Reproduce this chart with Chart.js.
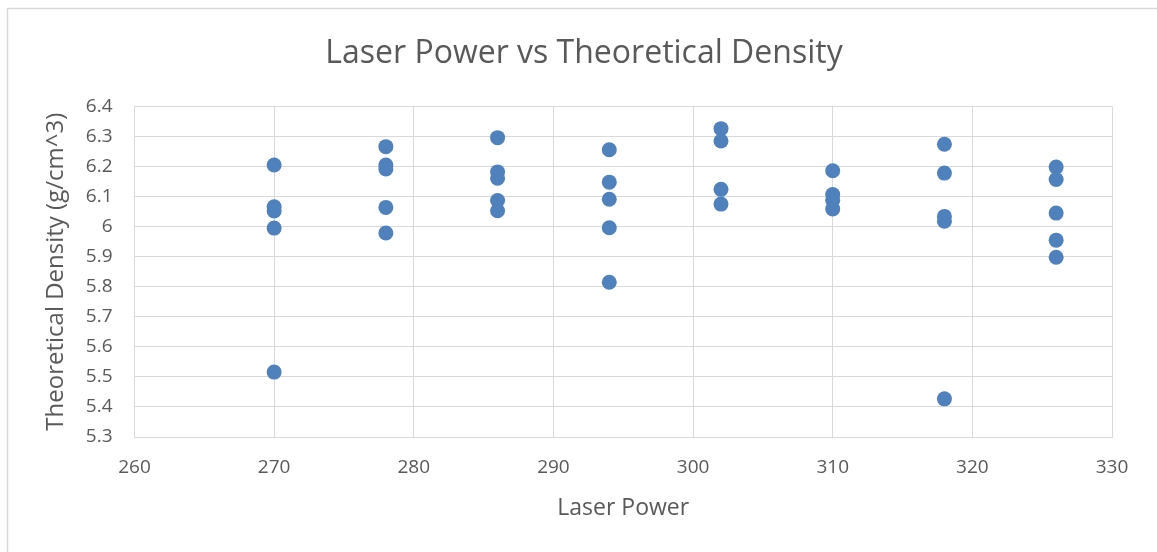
<!DOCTYPE html>
<html>
<head>
<meta charset="utf-8">
<script src="https://cdn.jsdelivr.net/npm/chart.js@4.4.1/dist/chart.umd.min.js"></script>
<style>
  html, body { margin: 0; padding: 0; background: #ffffff; }
  #wrap { width: 1157px; height: 552px; position: relative; }
</style>
</head>
<body>
<div id="wrap"><canvas id="c" width="1157" height="552"></canvas></div>
<script>
// Laser power settings (W) and measured theoretical density (g/cm^3)
const laserPower = [
  270, 270, 270, 270, 270,
  278, 278, 278, 278, 278,
  286, 286, 286, 286, 286,
  294, 294, 294, 294, 294,
  302, 302, 302, 302,
  310, 310, 310, 310,
  318, 318, 318, 318, 318,
  326, 326, 326, 326, 326
];
const density = [
  6.205, 6.066, 6.052, 5.995, 5.516,
  6.266, 6.205, 6.192, 6.064, 5.979,
  6.296, 6.182, 6.161, 6.087, 6.053,
  6.256, 6.148, 6.091, 5.996, 5.815,
  6.326, 6.285, 6.124, 6.075,
  6.186, 6.107, 6.088, 6.059,
  6.274, 6.178, 6.034, 6.018, 5.427,
  6.198, 6.157, 6.045, 5.955, 5.898
];
const xTicks = [260, 270, 280, 290, 300, 310, 320, 330];
const yTicks = [5.3, 5.4, 5.5, 5.6, 5.7, 5.8, 5.9, 6, 6.1, 6.2, 6.3, 6.4];

const points = laserPower.map((p, i) => ({ x: p, y: density[i] }));

const FONT = "'Open Sans', 'Noto Sans', sans-serif";
const TEXT = '#595959';
const GRID = '#d9d9d9';

// White background plus the thin frame around the chart
const framePlugin = {
  id: 'frame',
  beforeDraw(chart) {
    const ctx = chart.ctx;
    ctx.save();
    ctx.fillStyle = '#ffffff';
    ctx.fillRect(0, 0, chart.width, chart.height);
    ctx.strokeStyle = GRID;
    ctx.lineWidth = 1.5;
    ctx.strokeRect(7.5, 8.5, chart.width + 20, chart.height + 20);
    ctx.restore();
  }
};

new Chart(document.getElementById('c'), {
  type: 'scatter',
  data: {
    datasets: [{
      label: 'Theoretical Density',
      data: points,
      backgroundColor: '#4f81bd',
      borderColor: '#4f81bd',
      borderWidth: 0,
      pointRadius: 7.5,
      pointHoverRadius: 7.5
    }]
  },
  options: {
    responsive: false,
    animation: false,
    events: [],
    layout: { padding: { left: 11, right: 0, top: 0, bottom: 0 } },
    plugins: {
      legend: { display: false },
      tooltip: { enabled: false },
      title: {
        display: true,
        text: 'Laser Power vs Theoretical Density',
        color: TEXT,
        font: { family: FONT, size: 32, weight: 'normal', lineHeight: 1.2 },
        padding: { top: 35, bottom: 33 }
      }
    },
    scales: {
      x: {
        type: 'linear',
        min: 260,
        max: 330,
        afterBuildTicks(scale) { scale.ticks = xTicks.map(v => ({ value: v })); },
        afterFit(scale) { scale.height = 552 - 437; },
        grid: { color: GRID, lineWidth: 1, drawTicks: false },
        border: { color: GRID, width: 1 },
        ticks: {
          color: TEXT,
          font: { family: FONT, size: 19 },
          padding: 19,
          maxRotation: 0,
          callback: v => String(v)
        },
        title: {
          display: true,
          text: 'Laser Power',
          color: TEXT,
          font: { family: FONT, size: 23, lineHeight: 1.2 },
          padding: { top: 0, bottom: 30 }
        }
      },
      y: {
        type: 'linear',
        min: 5.3,
        max: 6.4,
        afterBuildTicks(scale) { scale.ticks = yTicks.map(v => ({ value: v })); },
        afterFit(scale) { scale.width = 123.5; },
        grid: { color: GRID, lineWidth: 1, drawTicks: false },
        border: { color: GRID, width: 1 },
        ticks: {
          color: TEXT,
          font: { family: FONT, size: 19 },
          padding: 22,
          callback: v => String(Math.round(v * 10) / 10)
        },
        title: {
          display: true,
          text: 'Theoretical Density (g/cm^3)',
          color: TEXT,
          font: { family: FONT, size: 24, lineHeight: 1.2 },
          padding: { top: 31, bottom: 0 }
        }
      },
      // empty margin on the right of the plot area
      yRight: {
        type: 'linear',
        position: 'right',
        display: true,
        afterFit(scale) { scale.width = 45; },
        grid: { display: false, drawTicks: false },
        border: { display: false },
        ticks: { display: false }
      }
    }
  },
  plugins: [framePlugin]
});
</script>
</body>
</html>
